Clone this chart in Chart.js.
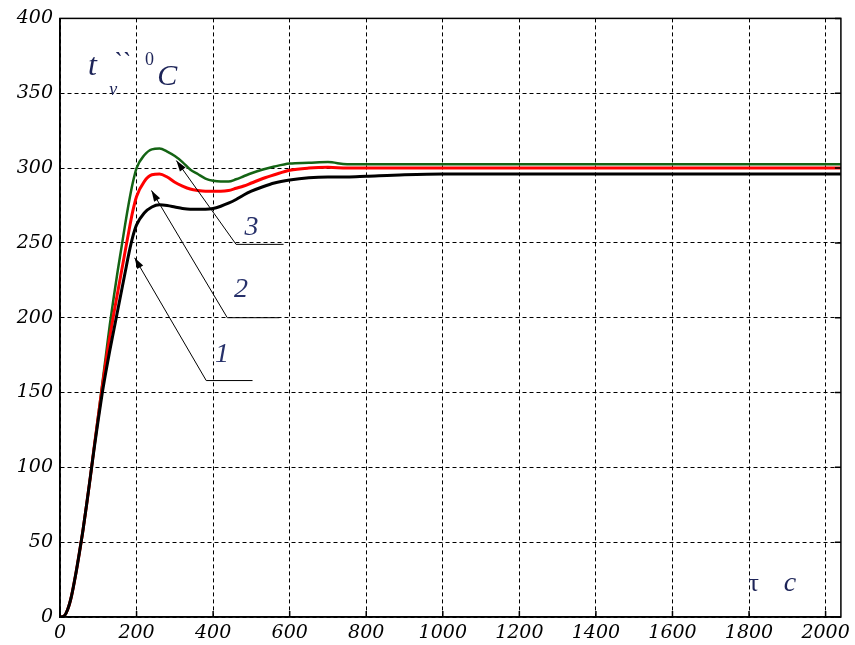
<!DOCTYPE html>
<html>
<head>
<meta charset="utf-8">
<script src="https://cdn.jsdelivr.net/npm/chart.js@4.4.1/dist/chart.umd.min.js"></script>
<style>
  html, body { margin: 0; padding: 0; background: #fff; }
  canvas { display: block; }
</style>
</head>
<body>
<canvas id="chart" width="855" height="645"></canvas>
<script>
// time, s
const times = [0, 10, 20, 30, 40, 50, 60, 70, 80, 90, 100, 110, 120, 130, 140, 150, 160, 170, 180, 190, 200,
  220, 240, 260, 280, 300, 320, 340, 360, 380, 400, 420, 440, 460, 480, 500, 530, 560, 600, 650, 700,
  750, 800, 900, 1000, 1200, 1500, 2040];

// curve 1 (black)
const curve1 = [0, 0.5, 5, 14, 27, 42, 58, 76, 95, 114, 132, 149, 164, 178, 191, 204, 217, 230, 243, 254, 262,
  270, 274, 275.5, 275, 274, 273, 272.5, 272.5, 272.5, 273, 274.5, 276.5, 279, 282, 284.5, 287.5, 290, 292, 293.5, 294,
  294, 294.5, 295.5, 296, 296, 296, 296];

// curve 2 (red)
const curve2 = [0, 0.5, 5, 14, 27, 42, 58, 76, 95, 115, 134, 153, 171, 187, 202, 216, 230, 244, 258, 271, 281,
  291, 295.5, 296, 294, 290.5, 288, 286, 285, 284.5, 284.5, 284.5, 285, 286.5, 288, 290, 293, 295.5, 298.5, 300, 300.5,
  300, 300, 300, 300, 300, 300, 300];

// curve 3 (green)
const curve3 = [0, 0.5, 5, 14, 27, 42, 58, 76, 95, 115, 135, 155, 175, 195, 213, 230, 246, 262, 277, 290, 300,
  308.5, 312.5, 313, 311, 308, 304, 299, 296, 293, 291.5, 291, 291, 292.5, 294.5, 296.5, 299, 301, 303, 303.5, 304,
  302.5, 302.5, 302.5, 302.5, 302.5, 302.5, 302.5];

const xTicks = [0, 200, 400, 600, 800, 1000, 1200, 1400, 1600, 1800, 2000];
const yTicks = [0, 50, 100, 150, 200, 250, 300, 350, 400];

// curve callouts: number, text position, shelf (x from..to, y), arrow tip
const calloutText = ['1', '2', '3'];
const calloutTextX = [423, 473, 500];
const calloutTextY = [175, 219, 260];
const shelfX0 = [382, 437, 460];
const shelfX1 = [503, 573, 584];
const shelfY = [158, 200, 249];
const tipX = [195, 239, 304];
const tipY = [240, 285, 305];

const toPts = s => times.map((t, i) => ({x: t, y: s[i]}));

const serifItalic = size => 'italic ' + size + 'px "Liberation Serif", "Times New Roman", serif';

const annotations = {
  id: 'annotations',
  afterDatasetsDraw(chart) {
    const ctx = chart.ctx;
    const a = chart.chartArea;
    const xs = chart.scales.x, ys = chart.scales.y;
    const px = v => xs.getPixelForValue(v);
    const py = v => ys.getPixelForValue(v);
    ctx.save();

    // frame
    ctx.strokeStyle = '#000';
    ctx.lineWidth = 1.5;
    ctx.strokeRect(a.left, a.top, a.right - a.left, a.bottom - a.top);

    // inner ticks
    ctx.beginPath();
    xs.ticks.forEach(t => {
      const x = px(t.value);
      ctx.moveTo(x, a.bottom);
      ctx.lineTo(x, a.bottom - 6);
    });
    ys.ticks.forEach(t => {
      const y = py(t.value);
      ctx.moveTo(a.right, y);
      ctx.lineTo(a.right - 6, y);
    });
    ctx.stroke();

    // callouts
    ctx.lineWidth = 1;
    for (let i = 0; i < calloutText.length; i++) {
      const sx = px(shelfX0[i]), sy = py(shelfY[i]);
      const tx = px(tipX[i]), ty = py(tipY[i]);
      ctx.beginPath();
      ctx.moveTo(px(shelfX1[i]), sy);
      ctx.lineTo(sx, sy);
      ctx.lineTo(tx, ty);
      ctx.stroke();
      const ang = Math.atan2(ty - sy, tx - sx);
      const len = 11, half = 3.5;
      ctx.beginPath();
      ctx.moveTo(tx, ty);
      ctx.lineTo(tx - len * Math.cos(ang) + half * Math.sin(ang), ty - len * Math.sin(ang) - half * Math.cos(ang));
      ctx.lineTo(tx - len * Math.cos(ang) - half * Math.sin(ang), ty - len * Math.sin(ang) + half * Math.cos(ang));
      ctx.closePath();
      ctx.fillStyle = '#000';
      ctx.fill();

      ctx.fillStyle = '#26306a';
      ctx.font = serifItalic(28);
      ctx.textAlign = 'center';
      ctx.textBaseline = 'middle';
      ctx.fillText(calloutText[i], px(calloutTextX[i]), py(calloutTextY[i]));
    }

    // axis captions
    ctx.fillStyle = '#1d2458';
    ctx.textAlign = 'center';
    ctx.textBaseline = 'middle';
    ctx.font = serifItalic(32);
    ctx.fillText('t', px(85), py(368));
    ctx.font = serifItalic(26);
    ctx.fillText('``', px(159), py(370));
    ctx.font = serifItalic(18);
    ctx.fillText('v', px(139), py(352));
    ctx.font = '18px "Liberation Serif", serif';
    ctx.fillText('0', px(234), py(372));
    ctx.font = serifItalic(30);
    ctx.fillText('C', px(280), py(361));
    ctx.font = '26px "Liberation Serif", serif';
    ctx.fillText('τ', px(1812), py(22));
    ctx.font = serifItalic(28);
    ctx.fillText('c', px(1907), py(22));

    ctx.restore();
  }
};

const tickFont = {family: '"DejaVu Serif", serif', size: 19, style: 'italic'};

new Chart(document.getElementById('chart'), {
  type: 'line',
  data: {
    datasets: [
      {label: '1', data: toPts(curve1), borderColor: '#000000', borderWidth: 3},
      {label: '2', data: toPts(curve2), borderColor: '#ff0000', borderWidth: 3},
      {label: '3', data: toPts(curve3), borderColor: '#146414', borderWidth: 2.5}
    ]
  },
  options: {
    responsive: false,
    animation: false,
    devicePixelRatio: 1,
    layout: {padding: {top: 17, right: 12, left: 0, bottom: 0}},
    elements: {
      point: {radius: 0},
      line: {cubicInterpolationMode: 'monotone'}
    },
    plugins: {legend: {display: false}, tooltip: {enabled: false}},
    scales: {
      x: {
        type: 'linear',
        min: 0,
        max: 2040,
        afterBuildTicks: s => { s.ticks = xTicks.map(v => ({value: v})); },
        ticks: {autoSkip: false, maxRotation: 0, color: '#000', font: tickFont, padding: 5,
          callback: v => String(v)},
        grid: {color: '#000', lineWidth: 1, drawTicks: false},
        border: {display: true, color: '#000', width: 1.5, dash: [4, 3]},
        afterFit: s => { s.height = 28; }
      },
      y: {
        min: 0,
        max: 400,
        afterBuildTicks: s => { s.ticks = yTicks.map(v => ({value: v})); },
        ticks: {color: '#000', font: tickFont, padding: 7, callback: v => String(v)},
        grid: {color: '#000', lineWidth: 1, drawTicks: false},
        border: {display: true, color: '#000', width: 1.5, dash: [4, 3]},
        afterFit: s => { s.width = 60; }
      }
    }
  },
  plugins: [annotations]
});
</script>
</body>
</html>
